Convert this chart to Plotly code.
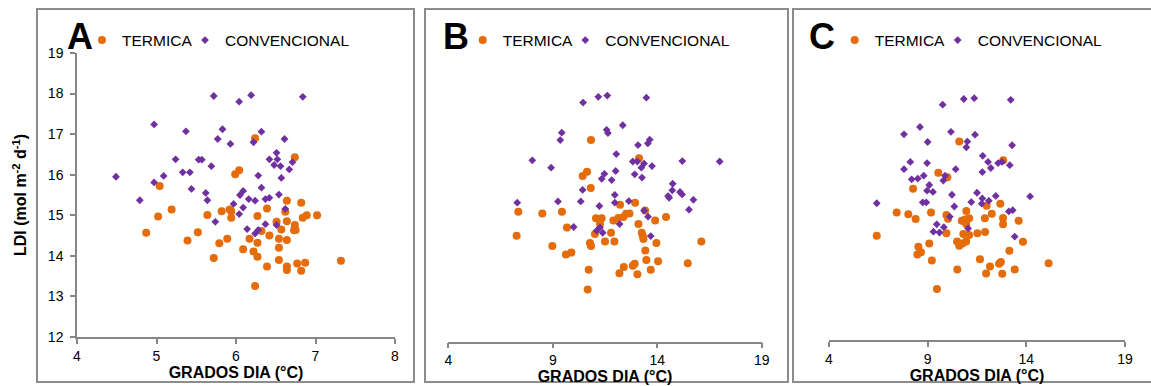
import plotly.graph_objects as go

W, H = 1151, 386

# ---------------- data ----------------
A_TERM_X = [5.04, 6.24, 6.74, 6.04, 5.99, 6.64, 6.82, 5.19, 5.02, 5.64, 5.82, 5.92, 5.94, 5.94, 6.27, 6.39, 6.62,
            6.51, 6.64, 6.84, 6.89, 7.02, 6.74, 6.73, 6.75, 4.87, 5.52, 5.39, 5.79, 5.89, 6.17, 6.27, 6.32, 6.42,
            6.54, 6.64, 6.57, 6.54, 6.09, 6.22, 6.27, 5.72, 6.54, 6.39, 6.64, 6.64, 6.77, 6.87, 6.82, 7.32, 6.24]
A_TERM_Y = [15.72, 16.90, 16.43, 16.11, 16.01, 15.36, 15.31, 15.14, 14.97, 15.01, 15.10, 15.14, 15.10, 14.94, 14.98,
            15.17, 15.09, 14.84, 14.85, 14.94, 15.00, 15.00, 14.76, 14.63, 14.64, 14.57, 14.58, 14.38, 14.31, 14.42,
            14.42, 14.32, 14.61, 14.50, 14.42, 14.39, 14.65, 14.20, 14.16, 14.11, 13.98, 13.95, 13.90, 13.74, 13.74,
            13.65, 13.81, 13.83, 13.63, 13.88, 13.26]
A_CONV_X = [5.72, 6.04, 6.19, 6.84, 4.97, 5.37, 5.83, 5.77, 5.93, 6.32, 6.22, 6.61, 5.24, 5.53, 5.57, 5.69, 6.51,
            6.42, 6.52, 6.48, 6.56, 6.71, 6.67, 6.57, 4.49, 5.09, 5.33, 5.42, 4.97, 6.28, 6.32, 5.44, 5.62, 6.09,
            6.54, 5.64, 4.79, 6.05, 6.16, 6.24, 6.37, 6.42, 5.97, 6.09, 6.04, 6.62, 5.74, 6.14, 6.24, 6.28, 6.37, 6.51]
A_CONV_Y = [17.94, 17.80, 17.96, 17.92, 17.24, 17.07, 17.12, 16.88, 16.76, 17.06, 16.80, 16.88, 16.38, 16.37, 16.37,
            16.21, 16.54, 16.38, 16.38, 16.24, 16.21, 16.31, 16.13, 15.92, 15.95, 15.97, 16.06, 16.06, 15.81, 15.98,
            15.68, 15.65, 15.55, 15.60, 15.51, 15.37, 15.37, 15.50, 15.40, 15.36, 15.40, 15.43, 15.28, 15.19, 15.03,
            15.16, 14.84, 14.66, 14.55, 14.64, 14.78, 14.76]

B_TERM_X = [10.83, 13.13, 10.64, 10.43, 10.82, 7.35, 8.50, 9.44, 12.22, 12.94, 13.42, 14.42, 13.90, 11.07, 11.34,
            11.26, 11.90, 12.14, 12.38, 12.51, 12.67, 9.68, 13.10, 11.79, 11.02, 13.26, 13.31, 13.34, 7.27, 16.11,
            13.96, 11.50, 11.95, 10.78, 10.83, 8.98, 13.43, 9.89, 9.63, 13.48, 14.04, 12.40, 12.83, 12.92, 15.46,
            10.72, 12.19, 13.05, 13.69, 10.67]
B_TERM_Y = [16.89, 16.45, 16.12, 16.02, 15.73, 15.15, 15.11, 15.15, 15.32, 15.37, 15.18, 15.02, 14.94, 14.99, 14.99,
            14.85, 14.94, 15.00, 15.02, 15.10, 15.11, 14.77, 14.85, 14.64, 14.61, 14.64, 14.56, 14.49, 14.57, 14.43,
            14.39, 14.43, 14.43, 14.39, 14.32, 14.32, 14.21, 14.16, 14.11, 13.98, 13.95, 13.81, 13.84, 13.89, 13.90,
            13.74, 13.66, 13.63, 13.74, 13.26]
B_CONV_X = [10.45, 11.18, 11.61, 13.48, 9.43, 9.36, 11.58, 11.64, 12.35, 13.08, 13.55, 13.64, 8.02, 8.92, 12.04,
            12.83, 13.05, 13.37, 13.24, 13.75, 15.20, 16.99, 11.47, 11.34, 12.01, 11.82, 12.92, 13.27, 10.43, 11.97,
            14.74, 14.72, 14.52, 15.09, 15.19, 7.30, 9.25, 10.34, 11.23, 11.97, 12.64, 14.57, 15.73, 15.52, 13.37,
            13.56, 12.20, 10.00, 11.10, 11.26, 11.39, 13.69]
B_CONV_Y = [17.80, 17.94, 17.97, 17.92, 17.07, 16.89, 17.14, 17.06, 17.25, 16.77, 16.81, 16.90, 16.40, 16.22, 16.55,
            16.37, 16.37, 16.32, 16.22, 16.26, 16.38, 16.37, 16.07, 15.95, 16.14, 15.92, 16.06, 15.98, 15.68, 15.56,
            15.83, 15.67, 15.53, 15.63, 15.57, 15.37, 15.40, 15.40, 15.29, 15.37, 15.41, 15.49, 15.44, 15.20, 15.18,
            15.03, 14.85, 14.78, 14.69, 14.77, 14.64, 14.56]

C_TERM_X = [10.60, 12.83, 9.54, 10.00, 8.26, 7.43, 8.02, 8.39, 9.17, 9.95, 10.03, 10.96, 10.73, 10.90, 11.10, 10.95,
            11.99, 12.68, 12.25, 11.90, 12.82, 12.82, 13.61, 6.42, 9.95, 10.81, 11.10, 11.52, 11.91, 10.49, 10.60,
            10.76, 10.95, 9.08, 8.53, 8.66, 8.48, 9.21, 13.83, 13.14, 11.65, 12.62, 12.71, 12.16, 13.41, 10.50,
            11.96, 12.78, 15.13, 9.47]
C_TERM_Y = [16.89, 16.43, 16.12, 16.01, 15.73, 15.14, 15.10, 14.98, 15.14, 15.08, 14.99, 15.18, 14.94, 14.97, 15.00,
            14.86, 15.31, 15.36, 15.11, 15.00, 15.01, 14.85, 14.94, 14.57, 14.63, 14.61, 14.59, 14.63, 14.66, 14.43,
            14.32, 14.38, 14.43, 14.38, 14.30, 14.16, 14.11, 13.96, 14.42, 14.20, 13.99, 13.88, 13.92, 13.81, 13.74,
            13.74, 13.64, 13.63, 13.89, 13.26]
C_CONV_X = [9.76, 10.83, 11.36, 13.21, 7.80, 8.61, 9.00, 10.18, 11.40, 11.01, 10.96, 13.28, 8.12, 7.80, 8.97, 10.42,
            11.79, 12.06, 12.20, 12.57, 12.77, 13.16, 11.77, 8.19, 8.50, 8.80, 9.88, 9.79, 9.08, 8.97, 9.27, 10.23,
            11.50, 12.45, 14.19, 6.42, 8.75, 8.93, 10.35, 11.21, 11.77, 11.74, 12.10, 13.11, 13.31, 10.12, 11.05,
            9.46, 9.29, 9.60, 9.82, 13.41]
C_CONV_Y = [17.80, 17.94, 17.96, 17.92, 17.07, 17.25, 16.88, 17.13, 17.06, 16.89, 16.75, 16.80, 16.39, 16.21, 16.36,
            16.21, 16.54, 16.39, 16.24, 16.36, 16.39, 16.31, 16.14, 15.96, 15.98, 16.05, 16.05, 15.93, 15.82, 15.68,
            15.65, 15.58, 15.63, 15.55, 15.54, 15.37, 15.39, 15.39, 15.29, 15.40, 15.49, 15.36, 15.43, 15.17, 15.20,
            15.04, 14.75, 14.85, 14.67, 14.65, 14.78, 14.55]

PANELS = ["A", "B", "C"]
SERIES = ["TERMICA", "CONVENCIONAL"]
X_TITLE = "GRADOS DIA (°C)"
Y_TITLE = "LDI (mol m<sup>-2</sup> d<sup>-1</sup>)"
X_TICKS_A = [4, 5, 6, 7, 8]
X_TICKS_BC = [4, 9, 14, 19]
Y_TICKS = [12, 13, 14, 15, 16, 17, 18, 19]

ORANGE = "#E46C0A"
PURPLE = "#7030A0"
FONT = "Liberation Sans, Arial, sans-serif"
AXCOL = "#868686"


def px(x):
    return x / W


def py(y):
    return 1 - y / H


def legend_id(k):
    return "legend" if k == 1 else "legend" + str(k)


data = [
    (A_TERM_X, A_TERM_Y, A_CONV_X, A_CONV_Y),
    (B_TERM_X, B_TERM_Y, B_CONV_X, B_CONV_Y),
    (C_TERM_X, C_TERM_Y, C_CONV_X, C_CONV_Y),
]

fig = go.Figure()
for i, (tx, ty, cx, cy) in enumerate(data):
    sfx = "" if i == 0 else str(i + 1)
    fig.add_trace(go.Scatter(x=tx, y=ty, mode="markers", name=SERIES[0], showlegend=True,
                             marker=dict(symbol="circle", size=8, color=ORANGE),
                             xaxis="x" + sfx, yaxis="y" + sfx, legend=legend_id(2 * i + 1)))
    fig.add_trace(go.Scatter(x=cx, y=cy, mode="markers", name=SERIES[1], showlegend=True,
                             marker=dict(symbol="diamond", size=6, color=PURPLE),
                             xaxis="x" + sfx, yaxis="y" + sfx, legend=legend_id(2 * i + 2)))

# domains (pixel boxes)
x_dom = [(77, 395), (448.3, 761.7), (829, 1125)]
y_dom = [(53, 337), (53.2, 341.5), (56, 340)]

axis_common = dict(showline=True, linecolor=AXCOL, linewidth=1.5, ticks="outside", ticklen=5,
                   tickcolor=AXCOL, tickwidth=1.5, showgrid=False, zeroline=False,
                   tickfont=dict(family=FONT, size=14, color="black"), automargin=False)

layout = dict(width=W, height=H, margin=dict(l=0, r=0, t=0, b=0),
              paper_bgcolor="white", plot_bgcolor="white", showlegend=True,
              font=dict(family=FONT, color="black"))

for i in range(3):
    sfx = "" if i == 0 else str(i + 1)
    xa = dict(axis_common, domain=[px(x_dom[i][0]), px(x_dom[i][1])], anchor="y" + sfx,
              tickvals=X_TICKS_A if i == 0 else X_TICKS_BC,
              range=[4, 8] if i == 0 else [4, 19],
              title=dict(text="<b>" + X_TITLE + "</b>", font=dict(family=FONT, size=16, color="black"),
                         standoff=4 if i == 0 else 0))
    ya = dict(axis_common, domain=[py(y_dom[i][1]), py(y_dom[i][0])], anchor="x" + sfx,
              range=[12, 19], tickvals=Y_TICKS)
    if i == 0:
        ya["ticklabelstandoff"] = 4
        ya["title"] = dict(text="<b>" + Y_TITLE + "</b>", font=dict(family=FONT, size=16, color="black"),
                           standoff=17)
    else:
        ya["visible"] = False
    layout["xaxis" + sfx] = xa
    layout["yaxis" + sfx] = ya

# legends
term_text_x = [120, 500.7, 872.7]
conv_text_x = [223, 603.3, 975.7]
leg_y = 40.5
for i in range(3):
    for j, tx in enumerate([term_text_x[i], conv_text_x[i]]):
        k = 2 * i + j + 1
        layout[legend_id(k)] = dict(x=px(tx - 38), y=py(leg_y), xanchor="left", yanchor="middle",
                                    bgcolor="rgba(0,0,0,0)", borderwidth=0,
                                    font=dict(family=FONT, size=15.5, color="black"),
                                    itemwidth=30, tracegroupgap=0)

fig.update_layout(**layout)

# panel borders
borders = [(37, 414), (425, 788), (793, 1160)]
for x0, x1 in borders:
    fig.add_shape(type="rect", xref="paper", yref="paper", x0=px(x0), x1=px(x1), y0=py(382), y1=py(9),
                  line=dict(color="#8c8c8c", width=2), fillcolor="rgba(0,0,0,0)", layer="below")

# panel letters
letters_x = [80, 456, 822]
for lx, lt in zip(letters_x, PANELS):
    fig.add_annotation(text="<b>" + lt + "</b>", x=px(lx), y=py(36), xref="paper", yref="paper",
                       xanchor="center", yanchor="middle", showarrow=False,
                       font=dict(family=FONT, size=36, color="black"))

fig.write_html("out.html")
